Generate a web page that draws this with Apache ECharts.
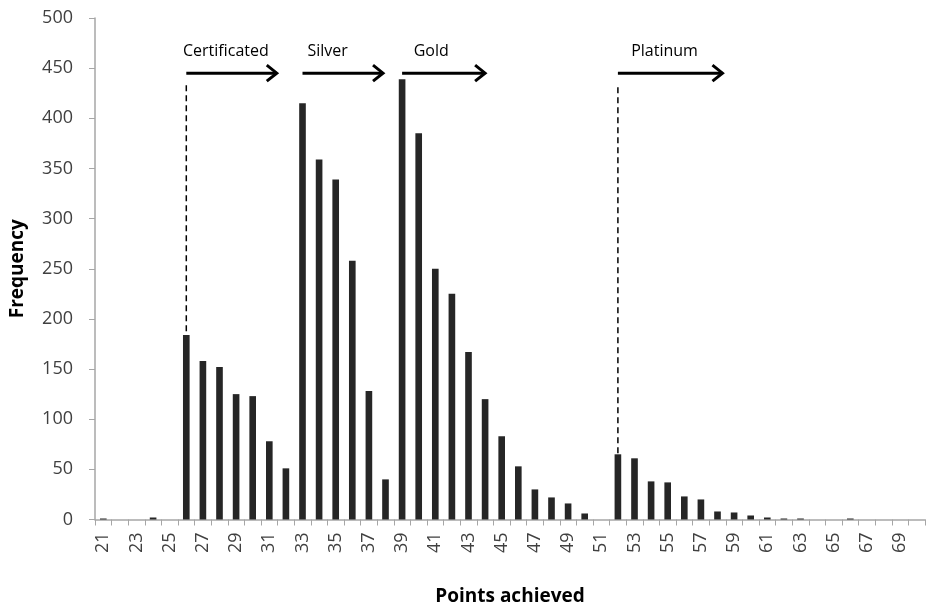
<!DOCTYPE html>
<html>
<head>
<meta charset="utf-8">
<script src="https://cdn.jsdelivr.net/npm/echarts@6/dist/echarts.min.js"></script>
<style>html,body{margin:0;padding:0;background:#fff}#c{width:931px;height:608px}</style>
</head>
<body>
<div id="c"></div>
<script>
// Categories: points achieved 21..70
var categories = ['21','22','23','24','25','26','27','28','29','30','31','32','33','34','35','36','37','38','39','40','41','42','43','44','45','46','47','48','49','50','51','52','53','54','55','56','57','58','59','60','61','62','63','64','65','66','67','68','69','70'];
var frequency = [1,0,0,2,0,184,158,152,125,123,78,51,415,359,339,258,128,40,439,385,250,225,167,120,83,53,30,22,16,6,0,65,61,38,37,23,20,8,7,4,2,1,1,0,0,1,0,0,0,0];
var yTicks = [0,50,100,150,200,250,300,350,400,450,500];

// Annotations (in data units: points achieved / frequency)
var awardNames = ['Certificated','Silver','Gold','Platinum'];
var arrowStart = [26, 33, 39, 52];
var arrowEnd = [31.45, 37.85, 44, 58.3];
var arrowLevel = 445;
var labelStart = [25.8, 33.3, 39.7, 52.8];
var labelLevel = 467;
var dashedAt = [26, 52];
var dashedTop = [433, 431];
var dashedBottom = [184, 65];

var chart = echarts.init(document.getElementById('c'));
var txt = '#404040';
var font = 'Open Sans';
chart.setOption({
  animation: false,
  grid: {left: 95, right: 6, top: 18, bottom: 88.5, containLabel: false, outerBoundsMode: 'none'},
  xAxis: [{
    type: 'category',
    data: categories,
    name: 'Points achieved',
    nameLocation: 'middle',
    nameGap: 68,
    nameTextStyle: {fontFamily: font, fontWeight: 'bold', fontSize: 19, color: '#000'},
    axisLine: {lineStyle: {color: '#a6a6a6', width: 1.5}},
    axisTick: {show: true, interval: 0, length: 6, lineStyle: {color: '#a6a6a6'}},
    axisLabel: {interval: 1, rotate: 90, fontFamily: font, fontSize: 18, color: txt, margin: 13}
  }, {
    type: 'value', min: 20.5, max: 70.5, show: false
  }],
  yAxis: {
    type: 'value', min: 0, max: 500, interval: 50,
    name: 'Frequency',
    nameLocation: 'middle',
    nameGap: 68,
    nameTextStyle: {fontFamily: font, fontWeight: 'bold', fontSize: 19, color: '#000'},
    axisLine: {show: true, lineStyle: {color: '#a6a6a6', width: 1.5}},
    axisTick: {show: true, length: 6, lineStyle: {color: '#a6a6a6'}},
    splitLine: {show: false},
    axisLabel: {fontFamily: font, fontSize: 18, color: txt, margin: 22}
  },
  series: [{
    type: 'bar',
    data: frequency,
    barWidth: '40%',
    itemStyle: {color: '#262626'}
  }]
});

function px(x, y) { return chart.convertToPixel({xAxisIndex: 1, yAxisIndex: 0}, [x, y]); }
var g = [];
for (var i = 0; i < awardNames.length; i++) {
  var a = px(arrowStart[i], arrowLevel), b = px(arrowEnd[i], arrowLevel);
  g.push({type: 'line', shape: {x1: a[0], y1: a[1], x2: b[0], y2: b[1]}, style: {stroke: '#000', lineWidth: 3}, z: 10});
  g.push({type: 'polyline', shape: {points: [[b[0]-10, b[1]-8], [b[0], b[1]], [b[0]-10, b[1]+8]]}, style: {stroke: '#000', lineWidth: 3, fill: null}, z: 10});
  var t = px(labelStart[i], labelLevel);
  g.push({type: 'text', x: t[0], y: t[1], style: {text: awardNames[i], font: '16px "' + font + '"', fill: '#000', textAlign: 'left', textVerticalAlign: 'middle'}, z: 10});
}
for (var j = 0; j < dashedAt.length; j++) {
  var p = px(dashedAt[j], dashedTop[j]), q = px(dashedAt[j], dashedBottom[j]);
  g.push({type: 'line', shape: {x1: p[0], y1: p[1], x2: q[0], y2: q[1]}, style: {stroke: '#000', lineWidth: 1.5, lineDash: [6, 4]}, z: 10});
}
chart.setOption({graphic: g});
</script>
</body>
</html>
